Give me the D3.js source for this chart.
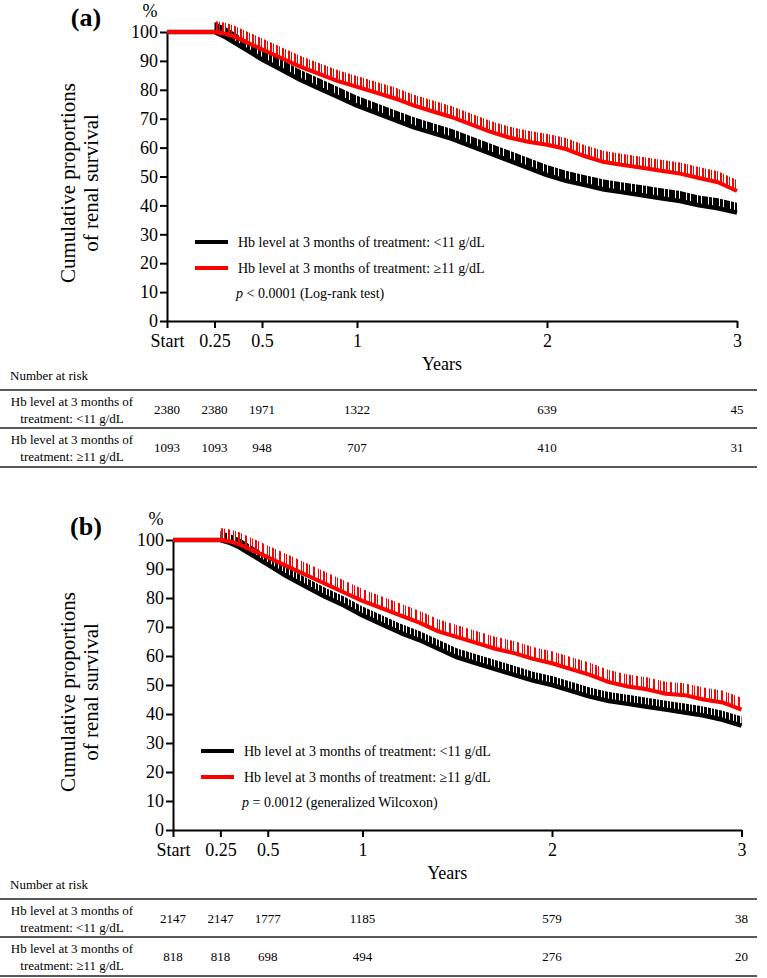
<!DOCTYPE html>
<html><head><meta charset="utf-8">
<script src="https://cdn.jsdelivr.net/npm/d3@7"></script>
<style>
body{margin:0;background:#fff}
svg{display:block}
text{font-family:"Liberation Serif","Times New Roman",serif;fill:#000}
</style>
</head><body>
<svg id="chart" width="767" height="978"></svg>
<script>
// ---------- data ----------
const xTickValues = [0, 0.25, 0.5, 1, 2, 3];
const xTickLabels = ["Start", "0.25", "0.5", "1", "2", "3"];
const yTickValues = [0, 10, 20, 30, 40, 50, 60, 70, 80, 90, 100];

const times = [0, 0.25, 0.3, 0.35, 0.4, 0.45, 0.5, 0.6, 0.7, 0.8, 0.9, 1.0, 1.1, 1.2, 1.3, 1.4, 1.5,
               1.6, 1.7, 1.8, 1.9, 2.0, 2.1, 2.2, 2.3, 2.4, 2.5, 2.6, 2.7, 2.8, 2.9, 3.0];

// panel (a)
const blackA = [100, 100, 98.5, 96.5, 94.5, 92.5, 90.5, 87, 83.5, 80.5, 77.5, 74.5, 72, 69.5, 67, 65, 63,
                60.5, 58, 55.5, 53, 50.5, 48.5, 47, 45.5, 44.5, 43.5, 42.5, 41.5, 40, 39, 37.5];
const redA   = [100, 100, 99.5, 98.5, 97, 95.5, 94, 91, 88, 85.5, 83, 81, 79, 77, 74.5, 72.5, 70.5,
                68, 65.5, 63.5, 62, 61, 59.5, 57, 55, 54, 53, 52, 51, 49.5, 48, 45];
// panel (b)
const blackB = [100, 100, 99, 97.5, 95.5, 93.5, 91.5, 87.5, 84, 80.5, 77.5, 74, 71, 68, 65.5, 62.5, 59.5,
                57.5, 55.5, 53.5, 51.5, 50, 48, 46, 44.5, 43.5, 42.5, 41.5, 40.5, 39.5, 38, 36];
const redB   = [100, 100, 99.5, 98.5, 97, 95.5, 94, 91, 88, 85, 82, 79, 76.5, 74, 71.5, 68.5, 66.5,
                64.5, 62.5, 61, 59, 57.5, 55.5, 53.5, 51, 49.5, 48.5, 47, 46.5, 45, 44, 41.5];

const seriesNames = ["Hb level at 3 months of treatment: <11 g/dL",
                     "Hb level at 3 months of treatment: \u226511 g/dL"];
const riskRowLabels = [["Hb level at 3 months of", "treatment: <11 g/dL"],
                       ["Hb level at 3 months of", "treatment: \u226511 g/dL"]];
const riskA = [[2380, 2380, 1971, 1322, 639, 45], [1093, 1093, 948, 707, 410, 31]];
const riskB = [[2147, 2147, 1777, 1185, 579, 38], [818, 818, 698, 494, 276, 20]];
const pTextA = " < 0.0001 (Log-rank test)";
const pTextB = " = 0.0012 (generalized Wilcoxon)";

// ---------- drawing ----------
const svg = d3.select("#chart");
const defs = svg.append("defs");
function stripePattern(id, color, w, stripes) {
  const p = defs.append("pattern").attr("id", id).attr("patternUnits", "userSpaceOnUse")
    .attr("width", w).attr("height", 20);
  stripes.forEach(s => p.append("rect").attr("x", s[0]).attr("y", 0).attr("width", s[1]).attr("height", 20).attr("fill", color));
}
stripePattern("pBlackA", "#000", 11, [[0, 4], [5, 3], [9, 2]]);
stripePattern("pRedA", "#f00", 12, [[0, 2], [3, 1], [6, 2], [9, 1]]);
stripePattern("pBlackB", "#000", 11, [[0, 3], [4, 3], [8, 2]]);
stripePattern("pRedB", "#f00", 17, [[0, 2], [3, 1], [7, 2], [12, 1], [14, 1]]);

const panels = [
  {label: "(a)", x0: 167, x1: 737, yBase: 321, yTop: 32, black: blackA, red: redA, risk: riskA, pText: pTextA,
   pat: ["pBlackA", "pRedA"], band: [10, 11]},
  {label: "(b)", x0: 173, x1: 741.5, yBase: 830, yTop: 540, black: blackB, red: redB, risk: riskB, pText: pTextB,
   pat: ["pBlackB", "pRedB"], band: [9, 12]}
];
const colors = ["#000000", "#ff0000"];

panels.forEach(P => {
  const g = svg.append("g");
  const x = d3.scaleLinear().domain([0, 3]).range([P.x0, P.x1]);
  const y = d3.scaleLinear().domain([0, 100]).range([P.yBase, P.yTop]);
  const B = P.yBase;

  // panel label and %
  g.append("text").attr("x", 86).attr("y", B - 295).attr("text-anchor", "middle")
    .attr("font-size", 26).attr("font-weight", "bold").text(P.label);
  g.append("text").attr("x", P.x0 - 17).attr("y", P.yTop - 15).attr("text-anchor", "middle")
    .attr("font-size", 18).text("%");

  // y title
  const yt = g.append("text").attr("transform", `translate(75,${B - 138}) rotate(-90)`)
    .attr("text-anchor", "middle").attr("font-size", 21);
  yt.append("tspan").attr("x", 0).attr("y", 0).text("Cumulative proportions");
  yt.append("tspan").attr("x", 0).attr("y", 23).text("of renal survival");

  // axes
  const yAxis = g.append("g").attr("transform", `translate(${P.x0},0)`)
    .call(d3.axisLeft(y).tickValues(yTickValues).tickSize(7).tickSizeOuter(0).tickPadding(2));
  const xAxis = g.append("g").attr("transform", `translate(0,${B})`)
    .call(d3.axisBottom(x).tickValues(xTickValues).tickSize(7).tickSizeOuter(0).tickPadding(6)
      .tickFormat((d, i) => xTickLabels[i]));
  [yAxis, xAxis].forEach(a => {
    a.attr("font-size", 18).attr("font-family", null);
    a.select(".domain").attr("stroke", "#000").attr("stroke-width", 2);
    a.selectAll(".tick line").attr("stroke", "#000").attr("stroke-width", 2);
    a.selectAll(".tick text").attr("fill", "#000");
  });
  g.append("text").attr("x", (P.x0 + P.x1) / 2 - 10).attr("y", B + 49).attr("text-anchor", "middle")
    .attr("font-size", 18).text("Years");

  // curves
  const seriesData = [P.black, P.red].map(vals => times.map((t, i) => ({t, v: vals[i]})));
  const line = d3.line().x(d => x(d.t)).y(d => y(d.v));
  seriesData.forEach((data, si) => {
    const band = d3.area().x(d => x(d.t)).y0(d => y(d.v)).y1(d => y(d.v) - P.band[si]);
    g.append("path").datum(data.filter(d => d.t >= 0.25)).attr("d", band)
      .attr("fill", `url(#${P.pat[si]})`);
    g.append("path").datum(data).attr("d", line).attr("fill", "none")
      .attr("stroke", colors[si]).attr("stroke-width", si === 0 ? 4.5 : 4).attr("stroke-linejoin", "round");
  });

  // legend
  seriesNames.forEach((name, i) => {
    const ly = B - 79 + i * 26;
    g.append("line").attr("x1", P.x0 + 28).attr("x2", P.x0 + 61).attr("y1", ly).attr("y2", ly)
      .attr("stroke", colors[i]).attr("stroke-width", 4);
    g.append("text").attr("x", P.x0 + 71).attr("y", ly + 5).attr("font-size", 14).text(name);
  });
  const pt = g.append("text").attr("x", P.x0 + 69).attr("y", B - 23).attr("font-size", 14);
  pt.append("tspan").attr("font-style", "italic").text("p");
  pt.append("tspan").text(P.pText);

  // number at risk table
  g.append("text").attr("x", 10).attr("y", B + 59).attr("font-size", 13).text("Number at risk");
  [69, 107, 146].forEach(dy => g.append("line").attr("x1", 0).attr("x2", 757)
    .attr("y1", B + dy).attr("y2", B + dy).attr("stroke", "#222").attr("stroke-width", 1.3));
  P.risk.forEach((row, ri) => {
    const top = B + 69 + ri * 38;
    riskRowLabels[ri].forEach((l, li) => g.append("text").attr("x", 72).attr("y", top + 16 + li * 17)
      .attr("text-anchor", "middle").attr("font-size", 13).text(l));
    row.forEach((n, ci) => g.append("text").attr("x", x(xTickValues[ci])).attr("y", top + 24)
      .attr("text-anchor", "middle").attr("font-size", 13).text(n));
  });
});
</script>
</body></html>
